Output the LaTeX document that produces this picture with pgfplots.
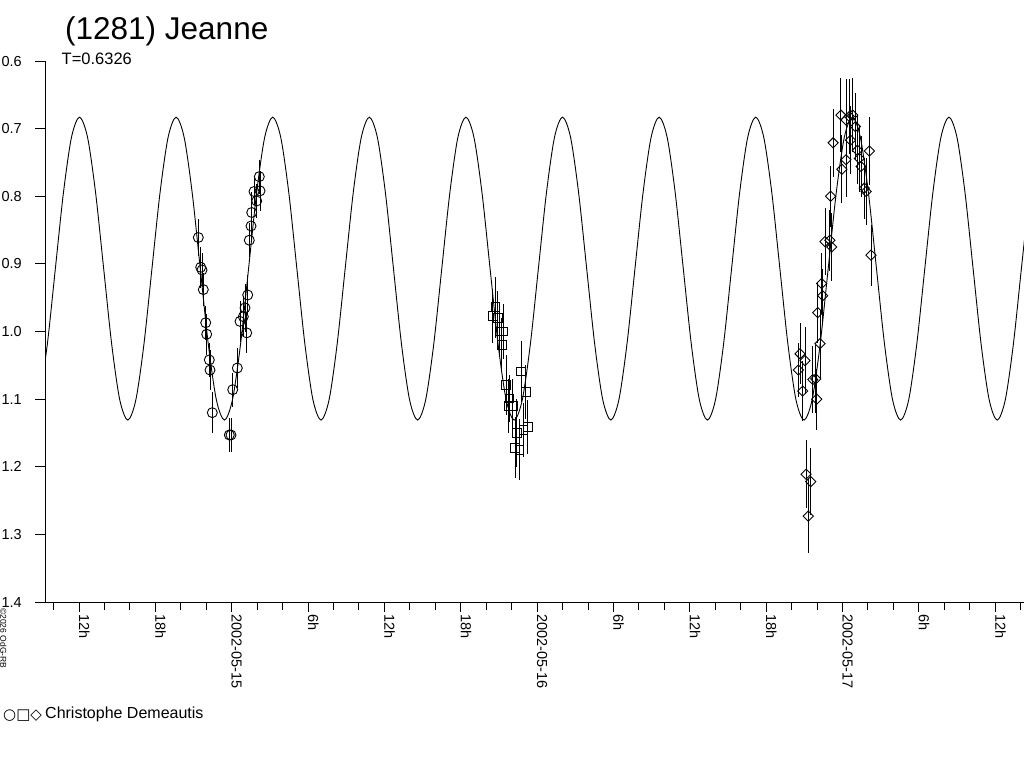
\documentclass[border=0pt]{standalone}
\usepackage{fontspec}
\setmainfont{Liberation Sans}
\newfontfamily\djv{DejaVu Sans}
\usepackage{pgfplots}
\usepackage{pgfplotstable}
\pgfplotsset{compat=1.18}

\pgfplotstableread{
h v
-15.123 1.101
-14.490 1.019
-13.858 0.907
-13.225 0.795
-12.593 0.713
-11.960 0.683
-11.327 0.713
-10.695 0.795
-10.062 0.907
-9.430 1.019
-8.797 1.101
-8.164 1.131
-7.532 1.101
-6.899 1.019
-6.267 0.907
-5.634 0.795
-5.001 0.713
-4.369 0.683
-3.736 0.713
-3.104 0.795
-2.471 0.907
-1.838 1.019
-1.206 1.101
-0.573 1.131
0.059 1.101
0.692 1.019
1.325 0.907
1.957 0.795
2.590 0.713
3.222 0.683
3.855 0.713
4.488 0.795
5.120 0.907
5.753 1.019
6.385 1.101
7.018 1.131
7.651 1.101
8.283 1.019
8.916 0.907
9.548 0.795
10.181 0.713
10.814 0.683
11.446 0.713
12.079 0.795
12.711 0.907
13.344 1.019
13.977 1.101
14.609 1.131
15.242 1.101
15.874 1.019
16.507 0.907
17.140 0.795
17.772 0.713
18.405 0.683
19.037 0.713
19.670 0.795
20.303 0.907
20.935 1.019
21.568 1.101
22.200 1.131
22.833 1.101
23.466 1.019
24.098 0.907
24.731 0.795
25.363 0.713
25.996 0.683
26.629 0.713
27.261 0.795
27.894 0.907
28.526 1.019
29.159 1.101
29.792 1.131
30.424 1.101
31.057 1.019
31.689 0.907
32.322 0.795
32.955 0.713
33.587 0.683
34.220 0.713
34.852 0.795
35.485 0.907
36.118 1.019
36.750 1.101
37.383 1.131
38.015 1.101
38.648 1.019
39.281 0.907
39.913 0.795
40.546 0.713
41.178 0.683
41.811 0.713
42.444 0.795
43.076 0.907
43.709 1.019
44.341 1.101
44.974 1.131
45.607 1.101
46.239 1.019
46.872 0.907
47.504 0.795
48.137 0.713
48.770 0.683
49.402 0.713
50.035 0.795
50.667 0.907
51.300 1.019
51.933 1.101
52.565 1.131
53.198 1.101
53.830 1.019
54.463 0.907
55.096 0.795
55.728 0.713
56.361 0.683
56.993 0.713
57.626 0.795
58.259 0.907
58.891 1.019
59.524 1.101
60.156 1.131
60.789 1.101
61.422 1.019
62.054 0.907
62.687 0.795
}\curve

\pgfplotstableread{
h v e
-2.625 0.861 0.028
-2.436 0.905 0.030
-2.334 0.909 0.025
-2.232 0.938 0.025
-2.043 0.987 0.025
-1.965 1.004 0.030
-1.760 1.042 0.025
-1.705 1.057 0.030
-1.525 1.120 0.030
-0.189 1.153 0.025
-0.055 1.153 0.025
0.079 1.086 0.025
0.440 1.054 0.030
0.652 0.985 0.030
0.912 0.978 0.030
1.045 0.965 0.035
1.257 0.946 0.030
1.179 1.002 0.030
1.383 0.865 0.025
1.517 0.844 0.020
1.572 0.824 0.030
1.965 0.807 0.025
1.752 0.793 0.020
2.224 0.792 0.030
2.169 0.771 0.025
}\circles

\pgfplotstableread{
h v e
20.51 0.977 0.040
20.71 0.964 0.045
20.90 0.980 0.040
21.03 1.000 0.035
21.22 1.020 0.040
21.34 1.000 0.040
21.56 1.079 0.045
21.74 1.110 0.040
21.82 1.099 0.035
22.08 1.110 0.040
22.26 1.172 0.045
22.40 1.150 0.050
22.60 1.175 0.045
22.73 1.059 0.045
22.92 1.146 0.040
23.10 1.089 0.040
23.26 1.141 0.040
}\squares

\pgfplotstableread{
h v e
44.53 1.057 0.040
44.66 1.033 0.045
44.87 1.088 0.045
45.05 1.043 0.050
45.13 1.211 0.050
45.31 1.273 0.055
45.50 1.222 0.050
45.66 1.071 0.050
45.89 1.070 0.050
45.97 1.100 0.045
46.05 0.972 0.045
46.23 1.018 0.050
46.36 0.929 0.045
46.44 0.947 0.040
46.62 0.867 0.050
47.01 0.865 0.045
47.15 0.875 0.050
47.06 0.800 0.045
47.26 0.721 0.050
47.87 0.680 0.055
47.95 0.760 0.050
48.27 0.687 0.060
48.27 0.746 0.055
48.53 0.682 0.055
48.62 0.717 0.050
48.80 0.680 0.055
49.01 0.697 0.050
49.17 0.732 0.050
49.32 0.744 0.050
49.45 0.756 0.045
49.71 0.788 0.045
49.85 0.793 0.050
50.11 0.733 0.050
50.24 0.887 0.045
}\diamonds

\begin{document}
\begin{tikzpicture}[x=1pt,y=1pt]
\useasboundingbox (0,0) rectangle (1024,-768);
\begin{axis}[
  at={(45pt,-602pt)}, anchor=south west,
  scale only axis, width=979pt, height=541pt,
  xmin=-14.672, xmax=62.26, ymin=0.6, ymax=1.4,
  y dir=reverse,
  axis lines=left,
  axis line style={-, line width=1pt, black},
  tick align=outside,
  major tick length=10pt, minor tick length=8pt,
  tick style={black, line width=1pt},
  xtick={-12,-6,0,6,12,18,24,30,36,42,48,54,60},
  xticklabels={12h,18h,2002-05-15,6h,12h,18h,2002-05-16,6h,12h,18h,2002-05-17,6h,12h},
  minor xtick={-14,-10,-8,-4,-2,2,4,8,10,14,16,20,22,26,28,32,34,38,40,44,46,50,52,56,58,62},
  ytick={0.6,0.7,0.8,0.9,1.0,1.1,1.2,1.3,1.4},
  yticklabels={0.6,0.7,0.8,0.9,1.0,1.1,1.2,1.3,1.4},
  xticklabel style={rotate=-90, anchor=base west, inner sep=0pt, font=\fontsize{14.5}{17}\selectfont},
  yticklabel style={anchor=east, inner sep=0pt, font=\fontsize{14.5}{17}\selectfont},
  xticklabel shift=2pt,
  yticklabel shift=13pt,
  /pgf/number format/assume math mode=true,
]
\addplot[black, line width=0.9pt, smooth, no marks] table[x=h, y=v] {\curve};
\addplot[black, only marks, mark=o, mark size=5pt, mark options={line width=0.9pt},
  error bars/.cd, y dir=both, y explicit, error mark=none,
  error bar style={line width=0.9pt, black}]
  table[x=h, y=v, y error=e] {\circles};
\addplot[black, only marks, mark=square, mark size=4.3pt, mark options={line width=0.9pt},
  error bars/.cd, y dir=both, y explicit, error mark=none,
  error bar style={line width=0.9pt, black}]
  table[x=h, y=v, y error=e] {\squares};
\addplot[black, only marks, mark=square, mark size=3.6pt, mark options={line width=0.9pt, rotate=45},
  error bars/.cd, y dir=both, y explicit, error mark=none,
  error bar style={line width=0.9pt, black}]
  table[x=h, y=v, y error=e] {\diamonds};
\end{axis}
\node[anchor=base west, inner sep=0pt, font=\fontsize{31.5}{36}\selectfont] at (65,-40) {(1281) Jeanne};
\node[anchor=base west, inner sep=0pt, font=\fontsize{16.5}{19}\selectfont] at (61.5,-64.5) {T=0.6326};
\node[anchor=base west, inner sep=0pt, font=\djv\fontsize{15}{17}\selectfont] at (3,-719) {○□◇};
\node[anchor=base west, inner sep=0pt, font=\fontsize{16}{19}\selectfont] at (45,-718) {Christophe Demeautis};
\node[rotate=-90, anchor=base west, inner sep=0pt, font=\fontsize{8.5}{10}\selectfont] at (0.5,-608) {©2026 OdG-RB};
\end{tikzpicture}
\end{document}
